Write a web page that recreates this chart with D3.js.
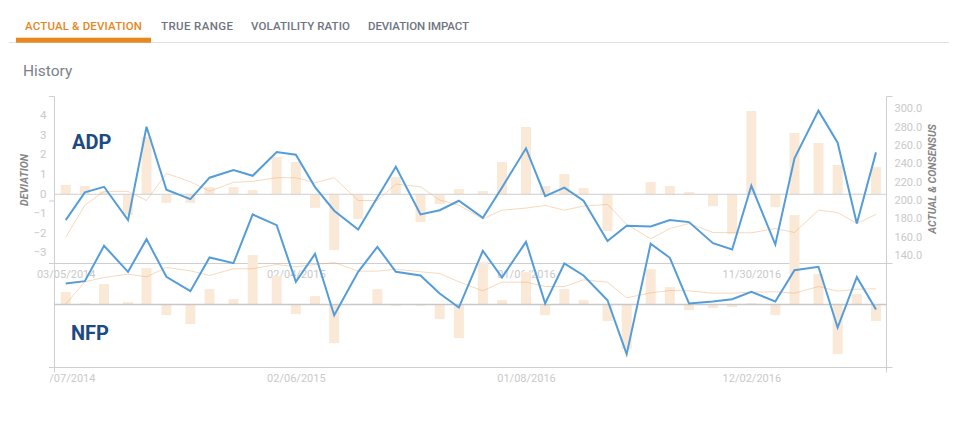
<!DOCTYPE html>
<html><head><meta charset="utf-8">
<script src="https://cdn.jsdelivr.net/npm/d3@7/dist/d3.min.js"></script>
<style>
html,body{margin:0;padding:0;background:#fff}
svg{display:block}
text{font-family:Roboto,sans-serif}
</style></head><body>
<svg id="c" width="955" height="429"></svg>
<script>
const tabLabels=["ACTUAL & DEVIATION","TRUE RANGE","VOLATILITY RATIO","DEVIATION IMPACT"];
const releaseDates=["2014-03-07","2014-04-04","2014-05-02","2014-06-06","2014-07-03","2014-08-01","2014-09-05","2014-10-03","2014-11-07","2014-12-05","2015-01-09","2015-02-06","2015-03-06","2015-04-03","2015-05-08","2015-06-05","2015-07-02","2015-08-07","2015-09-04","2015-10-02","2015-11-06","2015-12-04","2016-01-08","2016-02-05","2016-03-04","2016-04-01","2016-05-06","2016-06-03","2016-07-08","2016-08-05","2016-09-02","2016-10-07","2016-11-04","2016-12-02","2017-01-06","2017-02-03","2017-03-10","2017-04-07","2017-05-05","2017-06-02"];
const adpDeviation=[.48,.43,.15,-1.05,2.94,-.43,-.43,.37,.37,.22,1.9,1.65,-.68,-2.84,-1.26,0,.88,-1.41,-.49,.27,.17,1.65,3.44,.43,1.04,.32,-1.87,0,.63,.43,.12,-.6,-2,4.25,-.65,3.13,2.62,1.5,.04,1.39];
const adpActual=[178.2,208.4,214.5,178.2,280,211.3,201.1,224.4,232.7,226.5,252.4,249.5,214.2,188.4,168,202.9,236.4,184.4,189,199.3,180.7,213.8,256.4,204.4,213.5,199.3,155.3,172,171.3,178.2,176,153.1,146.2,215.6,151.6,245.5,297.5,262.5,174.5,252];
const adpConsensus=[159.3,194.5,209.5,209.5,199.6,229.1,220,209.8,219.3,220.4,224.4,224.4,218.9,224.4,199.6,199.6,217.5,214.5,200,194.5,179.6,189,191.3,194.2,189,193.5,195.3,173.5,157.8,169,174.5,164.7,164.4,164.4,169,164.7,189,186.5,174.5,184.4];
const nfpDeviation=[.62,.07,1.02,.12,1.82,-.53,-.98,.77,.27,2.47,1.42,-.48,.42,-1.93,0,.77,-.07,-.07,-.73,-1.68,2.12,.22,1.62,-.53,.77,.22,-.83,-2.23,1.77,.87,-.28,-.18,-.13,.07,-.53,4.47,1.52,-2.48,.52,-.83];
const nfpActual=[215,221.4,317.7,246.8,335.9,233.2,194.1,285.9,270.5,403.2,374.1,219.5,295.9,128.6,246.8,315,246.8,236.8,187.7,149.5,304.1,231.4,328.6,160.5,269.5,236.8,169.5,22.3,323.2,285,160.5,165.9,172.3,192.3,165.9,251.4,260.5,95,232.3,144.1];
const nfpConsensus=[158.6,219.5,231.4,240.5,233.2,258.6,249.5,236.8,255.3,255.3,266.8,260.5,266.8,272.3,248.6,248.6,254.1,246.8,242.3,219.5,195,218.6,218.6,206.8,206.8,225,218.6,175.9,189.5,195.9,195,188.6,188.6,191.4,192.3,188.6,206.8,194.1,199.5,200.5];
const deviationTicks=[4,3,2,1,0,-1,-2,-3];
const actualTicks=[300,280,260,240,220,200,180,160,140];
const adpDateTicks=[["2014-03-07","03/05/2014"],["2015-02-06","02/04/2015"],["2016-01-08","01/06/2016"],["2016-12-02","11/30/2016"]];
const nfpDateTicks=[["2014-03-07","03/07/2014"],["2015-02-06","02/06/2015"],["2016-01-08","01/08/2016"],["2016-12-02","12/02/2016"]];

const svg=d3.select("#c");
const L=54.5,R=886.5,T=96.5,M=263.5,B=367.5;
const axisCol="#cfcfcf",barCol="#fae9d7",blue="#559dd8",thin="#f0a868";
const parse=d3.utcParse("%Y-%m-%d");
const dates=releaseDates.map(parse);
const x=d3.scaleUtc().domain([parse("2014-03-07"),parse("2017-06-02")]).range([65.7,876]);
const yDevTop=d3.scaleLinear().domain([4.99,-3.52]).range([T,M]);
const yValTop=d3.scaleLinear().domain([312.9,130.9]).range([T,M]);
const yDevBot=d3.scaleLinear().domain([2.05,-3.15]).range([M,B]);
const yValBot=d3.scaleLinear().domain([269.5,-14]).range([M,B]);

// tabs
const tabX=[25,161,251,368],tabW=[117,72,99,101];
tabLabels.forEach((t,i)=>svg.append("text").attr("x",tabX[i]).attr("y",30).text(t)
  .attr("font-size",11.5).attr("font-weight",500)
  .attr("textLength",tabW[i]).attr("lengthAdjust","spacing")
  .attr("fill",i==0?"#e8871e":"#6f7480"));
svg.append("line").attr("x1",9).attr("x2",949).attr("y1",42.5).attr("y2",42.5).attr("stroke","#e2e2e2");
svg.append("rect").attr("x",16).attr("y",37.7).attr("width",135).attr("height",5).attr("fill","#e8871e");
svg.append("text").attr("x",23).attr("y",76).text("History").attr("font-size",15.5).attr("fill","#7d8187");

// axes
function clean(g,fs){g.select(".domain").remove();g.selectAll(".tick line").remove();
  g.selectAll("text").attr("fill","#c9c9c9").attr("font-size",fs).attr("font-family","Roboto,sans-serif");}
svg.append("g").attr("transform",`translate(${L-4},-1)`)
  .call(d3.axisLeft(yDevTop).tickValues(deviationTicks).tickFormat(d3.format("d")).tickSize(0).tickPadding(4))
  .call(g=>clean(g,11.5));
svg.append("g").attr("transform",`translate(${R+4},0)`)
  .call(d3.axisRight(yValTop).tickValues(actualTicks).tickFormat(d3.format(".1f")).tickSize(0).tickPadding(4))
  .call(g=>clean(g,11));
svg.append("g").attr("transform",`translate(0,${M+7})`)
  .call(d3.axisBottom(x).tickValues(adpDateTicks.map(d=>parse(d[0]))).tickFormat((d,i)=>adpDateTicks[i][1]).tickSize(0).tickPadding(0))
  .call(g=>clean(g,11));
svg.append("clipPath").attr("id","clipB").append("rect").attr("x",49.5).attr("y",370).attr("width",880).attr("height",20);
svg.append("g").attr("clip-path","url(#clipB)")
  .append("g").attr("transform",`translate(0,${B+7})`)
  .call(d3.axisBottom(x).tickValues(nfpDateTicks.map(d=>parse(d[0]))).tickFormat((d,i)=>nfpDateTicks[i][1]).tickSize(0).tickPadding(0))
  .call(g=>clean(g,11));

// frame
const lines=[[L,T,L,B+5],[R,T,R,B+5],[49,T,L,T],[R,T,R+6,T],[49,201,L,201],[49,M,R+6,M],[49,B,R+6,B]];
lines.forEach(a=>svg.append("line").attr("x1",a[0]).attr("y1",a[1]).attr("x2",a[2]).attr("y2",a[3]).attr("stroke",axisCol).attr("stroke-width",1));

// axis titles
svg.append("text").attr("transform","translate(28,180) rotate(-90)").attr("text-anchor","middle")
  .text("DEVIATION").attr("font-size",10.5).attr("font-weight",700).attr("font-style","italic").attr("fill","#858585");
svg.append("text").attr("transform","translate(936,179) rotate(-90)").attr("text-anchor","middle")
  .text("ACTUAL & CONSENSUS").attr("font-size",10.5).attr("font-weight",700).attr("font-style","italic").attr("fill","#858585");

// bars
function bars(vals,y){
  svg.append("g").selectAll("rect").data(vals).join("rect")
   .attr("x",(d,i)=>x(dates[i])-5).attr("width",10)
   .attr("y",d=>Math.min(y(d),y(0))).attr("height",d=>Math.abs(y(d)-y(0)))
   .attr("fill",barCol);
}
bars(adpDeviation,yDevTop);
bars(nfpDeviation,yDevBot);

// zero lines
[yDevTop(0),yDevBot(0)].forEach((v,i)=>svg.append("line").attr("x1",L).attr("x2",R).attr("y1",v).attr("y2",v)
   .attr("stroke",i?"#c8c8c8":"#d8d8d8").attr("stroke-width",1.4));

// lines
function path(vals,y,col,w,op){
  svg.append("path").datum(vals)
    .attr("d",d3.line().x((d,i)=>x(dates[i])).y(d=>y(d)))
    .attr("fill","none").attr("stroke",col).attr("stroke-width",w).attr("stroke-opacity",op);
}
path(adpConsensus,yValTop,thin,1,.45);
path(nfpConsensus,yValBot,thin,1,.45);
path(adpActual,yValTop,blue,2,1);
path(nfpActual,yValBot,blue,2,1);

// labels
svg.append("text").attr("x",72).attr("y",149).text("ADP").attr("font-family","Liberation Sans").attr("font-size",20).attr("font-weight",700).attr("fill","#1d4a80");
svg.append("text").attr("x",71).attr("y",340).text("NFP").attr("font-family","Liberation Sans").attr("font-size",20).attr("font-weight",700).attr("fill","#1d4a80");
</script>
</body></html>
